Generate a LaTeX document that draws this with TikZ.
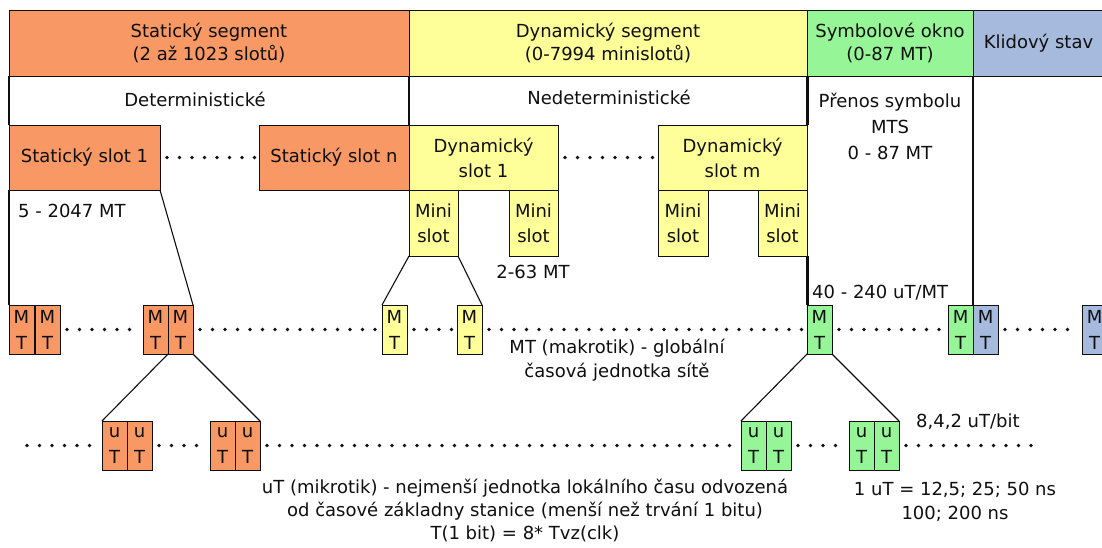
\documentclass[tikz,border=0pt]{standalone}
\usepackage{fontspec}
\setmainfont{DejaVu Sans}
\definecolor{orng}{RGB}{248,152,100}
\definecolor{ylw}{RGB}{255,255,153}
\definecolor{grn}{RGB}{150,245,150}
\definecolor{blu}{RGB}{166,186,222}
\definecolor{ink}{RGB}{15,15,15}
\begin{document}
\begin{tikzpicture}[x=1pt,y=-1pt,
  cell/.style={draw=ink, line width=1pt, inner sep=0pt, outer sep=0pt, anchor=north west, align=center, text=ink, font=\fontsize{18}{23}\selectfont},
  mtbox/.style={draw=ink, line width=1pt, inner sep=0pt, outer sep=0pt, minimum width=25pt, minimum height=49pt, anchor=north west, align=center, text=ink, font=\fontsize{18}{26}\selectfont},
  lbl/.style={inner sep=0pt, text=ink, font=\fontsize{18}{23}\selectfont},
  conn/.style={draw=ink, line width=1.1pt},
  thickconn/.style={draw=ink, line width=3pt},
  dots/.style={draw=ink, line width=3.6pt, line cap=round, dash pattern=on 0pt off 12.5pt, shorten <=7pt, shorten >=4pt}
]
\useasboundingbox (0,0) rectangle (1102,547);

% top bar
\node[cell, fill=orng, minimum width=400pt, minimum height=66pt] (bs) at (9,10) {Statický segment\\(2 až 1023 slotů)};
\node[cell, fill=ylw, minimum width=398pt, minimum height=66pt] (bd) at (409,10) {Dynamický segment\\(0-7994 minislotů)};
\node[cell, fill=grn, minimum width=166pt, minimum height=66pt] (bw) at (807,10) {Symbolové okno\\(0-87 MT)};
\node[cell, fill=blu, minimum width=131pt, minimum height=66pt] (bk) at (973,10) {Klidový stav};

% second row labels
\node[lbl] (det) at (195,99) {Deterministické};
\node[lbl] (ndet) at (609,97) {Nedeterministické};
\node[lbl, align=center, font=\fontsize{18}{26}\selectfont] (prenos) at (890,126) {Přenos symbolu\\MTS\\0 - 87 MT};

% slots
\node[cell, fill=orng, minimum width=151pt, minimum height=65pt] (s1) at (9,125) {Statický slot 1};
\node[cell, fill=orng, minimum width=150pt, minimum height=65pt] (sn) at (259,125) {Statický slot n};
\node[cell, fill=ylw, minimum width=149pt, minimum height=65pt, font=\fontsize{18}{25}\selectfont] (d1) at (409,125) {Dynamický\\slot 1};
\node[cell, fill=ylw, minimum width=149pt, minimum height=65pt, font=\fontsize{18}{25}\selectfont] (dm) at (658,125) {Dynamický\\slot m};

% mini slots
\node[cell, fill=ylw, minimum width=49pt, minimum height=66pt, font=\fontsize{18}{25}\selectfont] (m1) at (409,190) {Mini\\slot};
\node[cell, fill=ylw, minimum width=49pt, minimum height=66pt, font=\fontsize{18}{25}\selectfont] (m2) at (509,190) {Mini\\slot};
\node[cell, fill=ylw, minimum width=50pt, minimum height=66pt, font=\fontsize{18}{25}\selectfont] (m3) at (658,190) {Mini\\slot};
\node[cell, fill=ylw, minimum width=49pt, minimum height=66pt, font=\fontsize{18}{25}\selectfont] (m4) at (758,190) {Mini\\slot};

% MT boxes
\node[mtbox, fill=orng] (mo1) at (9,305) {M\\T};
\node[mtbox, fill=orng] (mo2) at (35,305) {M\\T};
\node[mtbox, fill=orng] (mo3) at (143,305) {M\\T};
\node[mtbox, fill=orng] (mo4) at (168,305) {M\\T};
\node[mtbox, fill=ylw] (my1) at (382,305) {M\\T};
\node[mtbox, fill=ylw] (my2) at (457,305) {M\\T};
\node[mtbox, fill=grn] (mg1) at (807,305) {M\\T};
\node[mtbox, fill=grn] (mg2) at (948,305) {M\\T};
\node[mtbox, fill=blu] (mb1) at (973,305) {M\\T};
\node[mtbox, fill=blu] (mb2) at (1082,305) {M\\T};

% uT boxes
\node[mtbox, fill=orng] (uo1) at (102,421) {u\\T};
\node[mtbox, fill=orng] (uo2) at (127,421) {u\\T};
\node[mtbox, fill=orng] (uo3) at (210,421) {u\\T};
\node[mtbox, fill=orng] (uo4) at (235,421) {u\\T};
\node[mtbox, fill=grn] (ug1) at (741,421) {u\\T};
\node[mtbox, fill=grn] (ug2) at (766,421) {u\\T};
\node[mtbox, fill=grn] (ug3) at (849,421) {u\\T};
\node[mtbox, fill=grn] (ug4) at (874,421) {u\\T};

% vertical boundary lines
\draw[conn] (bs.south west) -- (s1.north west);
\draw[conn] (s1.south west) -- (mo1.north west);
\draw[conn] (bs.south east) -- (sn.north east);
\draw[thickconn] (bd.south east) -- (dm.north east);
\draw[thickconn] (m4.south east) -- (mg1.north west);
\draw[conn] (bw.south east) -- (mg2.north east);

% expansion lines
\draw[conn] (s1.south east) -- (mo4.north east);
\draw[conn] (m1.south west) -- (my1.north west);
\draw[conn] (m1.south east) -- (my2.north east);
\draw[conn] (mo4.south west) -- (uo1.north west);
\draw[conn] (mo4.south east) -- (uo4.north east);
\draw[conn] (mg1.south west) -- (ug1.north west);
\draw[conn] (mg1.south east) -- (ug4.north east);

% dotted rows
\draw[dots] (s1.east) -- (sn.west);
\draw[dots] (d1.east) -- (dm.west);
\draw[dots] (mo2.east) -- (mo3.west);
\draw[dots] (mo4.east) -- (my1.west);
\draw[dots] (my1.east) -- (my2.west);
\draw[dots] (my2.east) -- (mg1.west);
\draw[dots] (mg1.east) -- (mg2.west);
\draw[dots] (mb1.east) -- (mb2.west);
\coordinate (ustart) at (20,445.5);
\coordinate (uend) at (1036,445.5);
\draw[dots] (ustart) -- (uo1.west);
\draw[dots] (uo2.east) -- (uo3.west);
\draw[dots] (uo4.east) -- (ug1.west);
\draw[dots] (ug2.east) -- (ug3.west);
\draw[dots] (ug4.east) -- (uend);

% labels
\node[lbl, anchor=west] (l5) at (18,211) {5 - 2047 MT};
\node[lbl] (l263) at (533,272) {2-63 MT};
\node[lbl, anchor=west] (l40) at (812,293) {40 - 240 uT/MT};
\node[lbl, align=center, font=\fontsize{18}{24}\selectfont] (lmt) at (617,360) {MT (makrotik) - globální\\časová jednotka sítě};
\node[lbl, anchor=west] (l842) at (916,422) {8,4,2 uT/bit};
\node[lbl, align=center] (lut) at (525,510) {uT (mikrotik) - nejmenší jednotka lokálního času odvozená\\od časové základny stanice (menší než trvání 1 bitu)\\T(1 bit) = 8* Tvz(clk)};
\node[lbl, align=center, font=\fontsize{18}{24}\selectfont] (l1ut) at (955,502) {1 uT = 12,5; 25; 50 ns\\100; 200 ns};
\end{tikzpicture}
\end{document}
